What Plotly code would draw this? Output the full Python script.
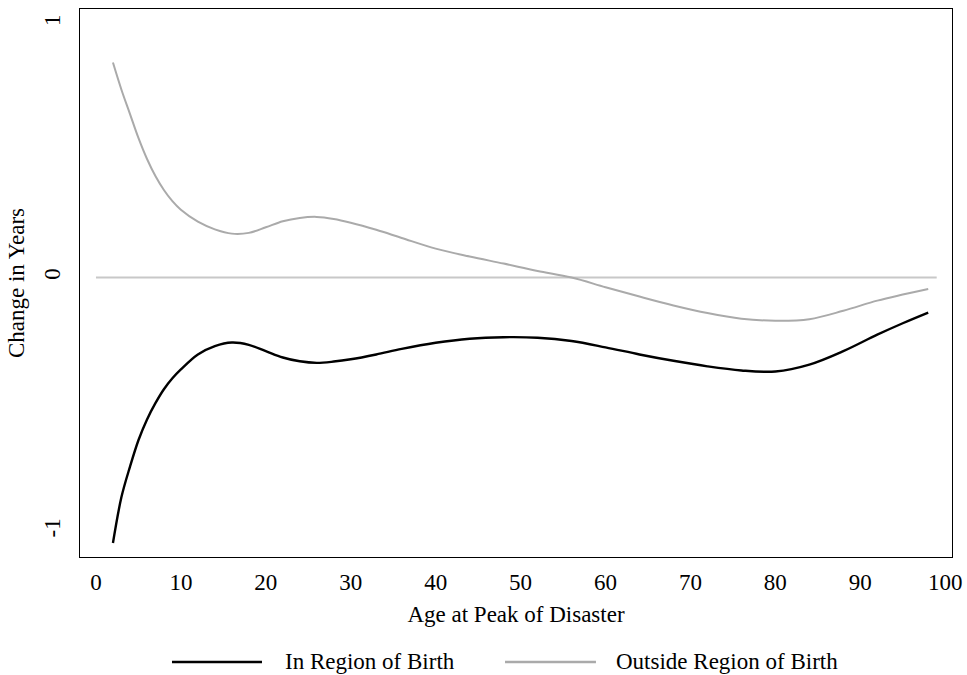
import plotly.graph_objects as go

# Age at peak of disaster
ages = [2, 3, 4, 5, 6, 7, 8, 9, 10, 12, 14, 16, 18, 20, 22, 24, 26, 28, 30, 33, 36, 40,
        44, 48, 52, 56, 60, 64, 68, 72, 76, 80, 84, 88, 92, 95, 98]

in_region = [-1.046, -0.865, -0.746, -0.641, -0.560, -0.495, -0.440, -0.397, -0.362, -0.303,
             -0.270, -0.256, -0.265, -0.290, -0.315, -0.330, -0.336, -0.331, -0.322, -0.303,
             -0.281, -0.257, -0.241, -0.235, -0.237, -0.250, -0.275, -0.303, -0.328, -0.350,
             -0.366, -0.370, -0.343, -0.290, -0.225, -0.180, -0.138]

outside_region = [0.847, 0.740, 0.645, 0.550, 0.468, 0.400, 0.345, 0.301, 0.267, 0.220,
                  0.190, 0.173, 0.176, 0.198, 0.222, 0.235, 0.239, 0.231, 0.216, 0.188,
                  0.156, 0.114, 0.083, 0.055, 0.026, 0.000, -0.038, -0.075, -0.110, -0.140,
                  -0.162, -0.170, -0.164, -0.131, -0.091, -0.067, -0.045]

ref_x = [0, 99]
ref_y = [0, 0]

x_ticks = [0, 10, 20, 30, 40, 50, 60, 70, 80, 90, 100]
y_ticks = [-1, 0, 1]

series_names = ["In Region of Birth", "Outside Region of Birth"]
BLACK = "#000000"
GRAY = "#aaaaaa"
REF = "#c8c8c8"
FONT = "Liberation Serif, Times New Roman, serif"
FS = 23

fig = go.Figure()
fig.add_trace(go.Scatter(x=ref_x, y=ref_y, mode="lines",
                         line=dict(color=REF, width=2), showlegend=False, hoverinfo="skip"))
fig.add_trace(go.Scatter(x=ages, y=outside_region, mode="lines", name=series_names[1],
                         line=dict(color=GRAY, width=2, shape="spline", smoothing=1.0),
                         showlegend=False))
fig.add_trace(go.Scatter(x=ages, y=in_region, mode="lines", name=series_names[0],
                         line=dict(color=BLACK, width=2.4, shape="spline", smoothing=1.0),
                         showlegend=False))

# manual legend (wide line samples)
legend_y = -0.1916
fig.add_shape(type="line", xref="paper", yref="paper", x0=0.1055, x1=0.2087,
              y0=legend_y, y1=legend_y, line=dict(color=BLACK, width=2.4))
fig.add_shape(type="line", xref="paper", yref="paper", x0=0.4874, x1=0.5917,
              y0=legend_y, y1=legend_y, line=dict(color=GRAY, width=2.4))
fig.add_annotation(x=0.2328, y=legend_y, xref="paper", yref="paper", text=series_names[0],
                   showarrow=False, xanchor="left", yanchor="middle",
                   font=dict(family=FONT, size=FS, color="black"))
fig.add_annotation(x=0.6124, y=legend_y, xref="paper", yref="paper", text=series_names[1],
                   showarrow=False, xanchor="left", yanchor="middle",
                   font=dict(family=FONT, size=FS, color="black"))

fig.update_layout(
    width=967, height=675,
    margin=dict(l=80, r=15, t=9, b=118),
    paper_bgcolor="white", plot_bgcolor="white",
    font=dict(family=FONT, size=FS, color="black"),
    showlegend=False,
    xaxis=dict(range=[-1.88, 100.8], tickvals=x_ticks, ticks="", showgrid=False,
               zeroline=False, showline=True, linecolor="black", linewidth=1, mirror=True,
               ticklabelstandoff=4, automargin=False,
               title=dict(text="Age at Peak of Disaster", standoff=12,
                          font=dict(family=FONT, size=FS))),
    yaxis=dict(range=[-1.101, 1.058], tickvals=y_ticks, ticktext=["-1", "0", "1"],
               tickangle=-90, ticks="", showgrid=False,
               zeroline=False, showline=True, linecolor="black", linewidth=1, mirror=True,
               ticklabelstandoff=10, automargin=False,
               title=dict(text="Change in Years", standoff=8,
                          font=dict(family=FONT, size=FS))),
)

fig.write_html("out.html")
